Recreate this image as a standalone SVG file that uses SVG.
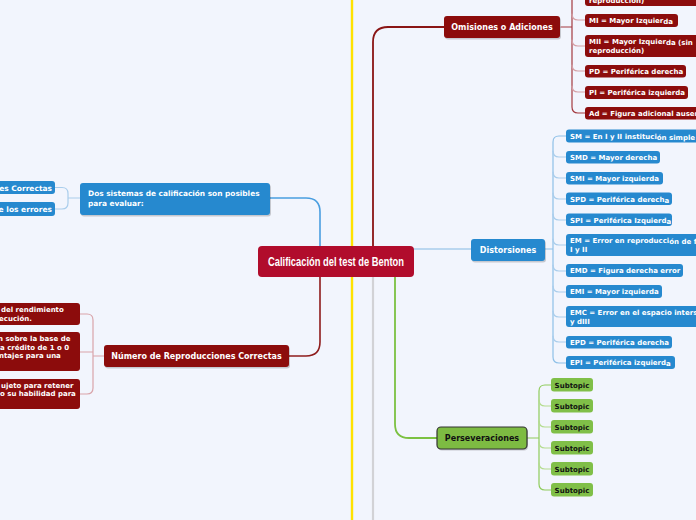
<svg xmlns="http://www.w3.org/2000/svg" width="696" height="520" viewBox="0 0 696 520">
<defs>
<style>
.t{font-family:"DejaVu Sans","Liberation Sans",sans-serif;font-weight:bold;fill:#fff}
.s{font-size:7px}
.m{font-size:8px}
.red{fill:#8c0c0c}
.blue{fill:#2689cf}
.grn{fill:#80bf48}
.sh{fill:#000;opacity:0.18}
.cn{fill:none;stroke-linecap:round}
</style>
</defs>
<rect width="696" height="520" fill="#f2f5fd"/>
<g id="connectors">
<line x1="352" y1="0" x2="352" y2="520" stroke="#ffe200" stroke-width="2.4"/>
<line x1="373" y1="277" x2="373" y2="520" stroke="#d2d2d6" stroke-width="2.2"/>
<path class="cn" d="M320,246 V212 Q320,198 306,198 H270" stroke="#4a9ee0" stroke-width="1.6"/>
<path class="cn" d="M320,277 V342 Q320,356 306,356 H289" stroke="#8e1c1c" stroke-width="1.6"/>
<path class="cn" d="M373,246 V42 Q373,27 388,27 H444" stroke="#8a1515" stroke-width="1.8"/>
<path class="cn" d="M395,277 V424 Q395,438 409,438 H437" stroke="#7cc142" stroke-width="1.8"/>
<path class="cn" d="M414,249 H471" stroke="#a9cdec" stroke-width="1.4"/>
<path class="cn" d="M561,27 H572 M572,0 V107 Q572,113 578,113 H585" stroke="#a33a40" stroke-width="1.2"/>
<path class="cn" d="M572,14 Q572,20 578,20 H585 M572,40 Q572,46 578,46 H585 M572,65 Q572,71 578,71 H585 M572,86 Q572,92 578,92 H585" stroke="#d4a0a6" stroke-width="1.2"/>
<path class="cn" d="M545,249 H553 M553,142 Q553,136 559,136 H566 M553,142 V357 Q553,363 559,363 H566" stroke="#8ec0e8" stroke-width="1.2"/>
<path class="cn" d="M553,151 Q553,157 559,157 H566 M553,172 Q553,178 559,178 H566 M553,193 Q553,199 559,199 H566 M553,214 Q553,220 559,220 H566 M553,239 Q553,245 559,245 H566 M553,265 Q553,271 559,271 H566 M553,286 Q553,292 559,292 H566 M553,311 Q553,317 559,317 H566 M553,336 Q553,342 559,342 H566" stroke="#a9cdec" stroke-width="1.2"/>
<path class="cn" d="M527,438 H539 M539,391 Q539,385 545,385 H551 M539,391 V484 Q539,490 545,490 H551" stroke="#8fcc5c" stroke-width="1.2"/>
<path class="cn" d="M539,400 Q539,406 545,406 H551 M539,421 Q539,427 545,427 H551 M539,442 Q539,448 545,448 H551 M539,463 Q539,469 545,469 H551" stroke="#b4dc8e" stroke-width="1.2"/>
<path class="cn" d="M80,198 H68 M55,187.5 H62 Q68,187.5 68,193.5 V203 Q68,209 62,209 H55" stroke="#a9cdec" stroke-width="1.2"/>
<path class="cn" d="M104,356 H93 M80,314 H87 Q93,314 93,320 V388 Q93,394 87,394 H80 M80,352 H93" stroke="#d9a4aa" stroke-width="1.2"/>
</g>
<g id="center">
<rect x="258" y="246" width="156" height="31" rx="4" fill="#b10c2c"/>
<text x="268" y="266" font-family="'Liberation Sans',sans-serif" font-weight="bold" font-size="13" fill="#fff" textLength="136" lengthAdjust="spacingAndGlyphs">Calificación del test de Benton</text>
</g>
<g id="dos-sistemas">
<rect x="81" y="184.5" width="190" height="32" rx="3" class="sh"/>
<rect x="80" y="183" width="190" height="32" rx="3" class="blue"/>
<text class="t" font-size="7.4" x="88" y="196">Dos sistemas de calificación son posibles</text>
<text class="t" font-size="7.4" x="88" y="206">para evaluar:</text>
</g>
<g id="correctas">
<rect x="-10" y="181" width="65" height="13" rx="3" class="blue"/>
<text class="t" font-size="7.5" x="52" y="190.5" text-anchor="end">es Correctas</text>
</g>
<g id="errores">
<rect x="-10" y="202" width="65" height="14" rx="3" class="blue"/>
<text class="t" font-size="7.5" x="52" y="212" text-anchor="end">e los errores</text>
</g>
<g id="numero">
<rect x="105" y="346.5" width="185" height="22" rx="3" class="sh"/>
<rect x="104" y="345" width="185" height="22" rx="3" class="red"/>
<text class="t m" x="196.5" y="359" text-anchor="middle">Número de Reproducciones Correctas</text>
</g>
<g id="rendimiento">
<rect x="-10" y="303" width="90" height="22" rx="3" class="red"/>
<text class="t s" x="1" y="312">del rendimiento</text>
<text class="t s" x="-1" y="320.5">ecución.</text>
</g>
<g id="base">
<rect x="-10" y="332" width="90" height="39" rx="3" class="red"/>
<text class="t s" x="-2" y="341">n sobre la base de</text>
<text class="t s" x="0" y="349.5">a crédito de 1 o 0</text>
<text class="t s" x="-1" y="358">ntajes para una</text>
</g>
<g id="retener">
<rect x="-10" y="379" width="90" height="30" rx="3" class="red"/>
<text class="t s" x="1" y="387.5">ujeto para retener</text>
<text class="t s" x="0" y="396">o su habilidad para</text>
</g>
<g id="omisiones">
<rect x="445" y="17.5" width="116" height="22" rx="3" class="sh"/>
<rect x="444" y="16" width="116" height="22" rx="3" class="red"/>
<text class="t m" x="502" y="30" text-anchor="middle">Omisiones o Adiciones</text>
</g>
<g id="md">
<rect x="585" y="-20" width="130" height="26" rx="3" class="red"/>
<text class="t s" x="589" y="2.5">reproducción)</text>
</g>
<g id="mi">
<rect x="585" y="14" width="93" height="13" rx="3" class="red"/>
<text class="t s" x="589" y="23">MI = Mayor Izquier<tspan dy="1.2">da</tspan></text>
</g>
<g id="mii">
<rect x="585" y="35" width="130" height="22" rx="3" class="red"/>
<text class="t s" x="589" y="44">MII = Mayor Izquier<tspan dy="1.2">da (sin</tspan></text>
<text class="t s" x="589" y="53">reproducción)</text>
</g>
<g id="pd">
<rect x="585" y="65" width="101" height="12.5" rx="3" class="red"/>
<text class="t s" x="589" y="74">PD = Periférica derecha</text>
</g>
<g id="pi">
<rect x="585" y="86" width="103" height="13" rx="3" class="red"/>
<text class="t s" x="589" y="95">PI = Periférica izquierda</text>
</g>
<g id="ad">
<rect x="585" y="107" width="130" height="12.5" rx="3" class="red"/>
<text class="t s" x="589" y="116">Ad = Figura adicional ausente</text>
</g>
<g id="distorsiones">
<rect x="472" y="240.5" width="74" height="22" rx="3" class="sh"/>
<rect x="471" y="239" width="74" height="22" rx="3" class="blue"/>
<text class="t m" x="508" y="253" text-anchor="middle">Distorsiones</text>
</g>
<g id="sm"><rect x="566" y="129.5" width="140" height="13" rx="3" class="blue"/><text class="t s" x="570" y="138.5">SM = En I y II instituci<tspan dy="1.2">ón simple</tspan></text></g>
<g id="smd"><rect x="566" y="151" width="94" height="12.5" rx="3" class="blue"/><text class="t s" x="570" y="160">SMD = Mayor derecha</text></g>
<g id="smi"><rect x="566" y="172" width="97" height="12.5" rx="3" class="blue"/><text class="t s" x="570" y="181">SMI = Mayor izquierda</text></g>
<g id="spd"><rect x="566" y="192.5" width="106" height="12.5" rx="3" class="blue"/><text class="t s" x="570" y="201.5">SPD = Periférica derech<tspan dy="1.2">a</tspan></text></g>
<g id="spi"><rect x="566" y="213.5" width="106" height="12.5" rx="3" class="blue"/><text class="t s" x="570" y="222.5">SPI = Periférica Izquierd<tspan dy="1.2">a</tspan></text></g>
<g id="em"><rect x="566" y="234" width="140" height="22" rx="3" class="blue"/><text class="t s" x="570" y="243">EM = Error en reproducci<tspan dy="1.2">ón de f</tspan></text><text class="t s" x="570" y="252">I y II</text></g>
<g id="emd"><rect x="566" y="264" width="117" height="13" rx="3" class="blue"/><text class="t s" x="570" y="273">EMD = Figura derecha error</text></g>
<g id="emi"><rect x="566" y="285" width="96" height="13" rx="3" class="blue"/><text class="t s" x="570" y="294">EMI = Mayor izquierda</text></g>
<g id="emc"><rect x="566" y="306" width="140" height="21" rx="3" class="blue"/><text class="t s" x="570" y="315">EMC = Error en el espacio inters</text><text class="t s" x="570" y="323.5">y dIII</text></g>
<g id="epd"><rect x="566" y="336" width="106" height="12.5" rx="3" class="blue"/><text class="t s" x="570" y="345">EPD = Periférica derecha</text></g>
<g id="epi"><rect x="566" y="356" width="109" height="13" rx="3" class="blue"/><text class="t s" x="570" y="365">EPI = Periférica izquierd<tspan dy="1.2">a</tspan></text></g>
<g id="perseveraciones">
<rect x="438" y="428.5" width="90" height="22" rx="4" class="sh"/>
<rect x="437" y="427" width="90" height="22" rx="4" fill="#7dbb42" stroke="#333" stroke-width="1.2"/>
<text class="t m" style="fill:#111" x="482" y="441" text-anchor="middle">Perseveraciones</text>
</g>
<g id="sub1"><rect x="551" y="378" width="42" height="13.5" rx="3" class="grn"/><text class="t s" style="fill:#111" x="572" y="387.5" text-anchor="middle">Subtopic</text></g>
<g id="sub2"><rect x="551" y="399" width="42" height="13.5" rx="3" class="grn"/><text class="t s" style="fill:#111" x="572" y="408.5" text-anchor="middle">Subtopic</text></g>
<g id="sub3"><rect x="551" y="420" width="42" height="13.5" rx="3" class="grn"/><text class="t s" style="fill:#111" x="572" y="429.5" text-anchor="middle">Subtopic</text></g>
<g id="sub4"><rect x="551" y="441" width="42" height="13.5" rx="3" class="grn"/><text class="t s" style="fill:#111" x="572" y="450.5" text-anchor="middle">Subtopic</text></g>
<g id="sub5"><rect x="551" y="462" width="42" height="13.5" rx="3" class="grn"/><text class="t s" style="fill:#111" x="572" y="471.5" text-anchor="middle">Subtopic</text></g>
<g id="sub6"><rect x="551" y="483" width="42" height="13.5" rx="3" class="grn"/><text class="t s" style="fill:#111" x="572" y="492.5" text-anchor="middle">Subtopic</text></g>
</svg>
